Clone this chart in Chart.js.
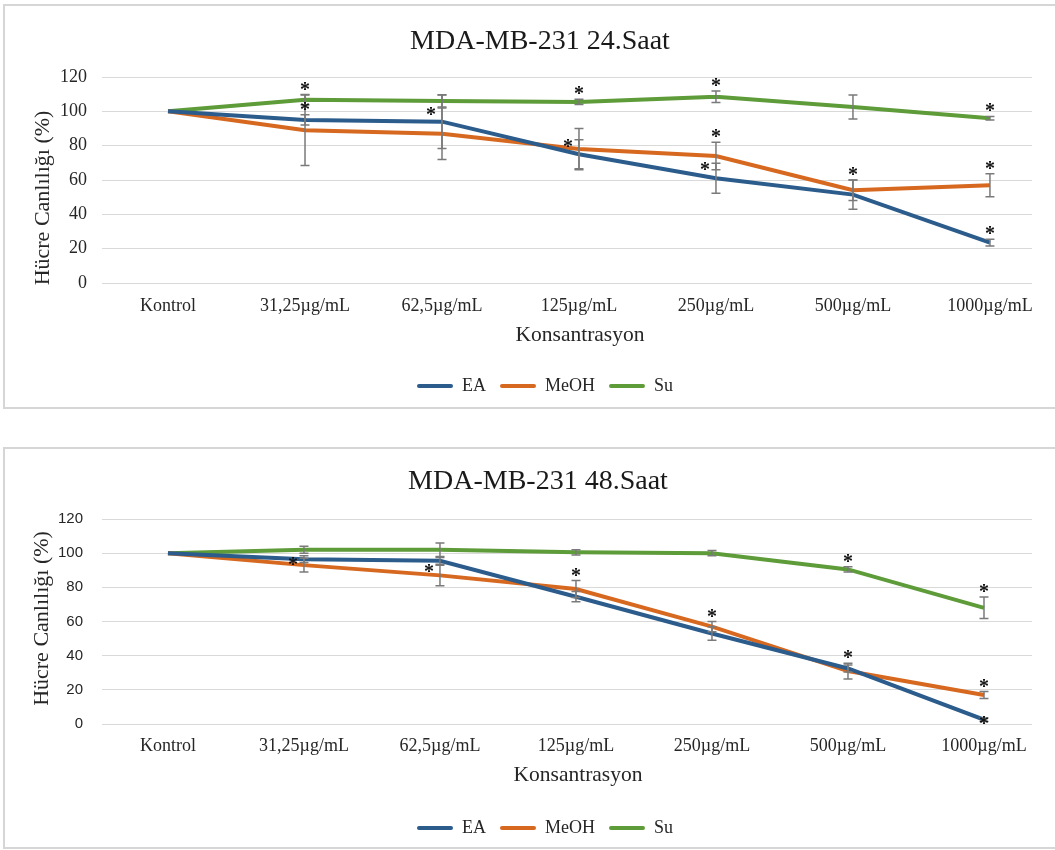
<!DOCTYPE html>
<html>
<head>
<meta charset="utf-8">
<script src="https://cdn.jsdelivr.net/npm/chart.js@4/dist/chart.umd.min.js"></script>
<style>
  html, body { margin: 0; padding: 0; background: #fff; width: 1055px; height: 850px; overflow: hidden; }
  .frame { position: absolute; border: 2px solid #d6d6d6; box-sizing: border-box; }
  #f1 { left: 3px; top: 4px; width: 1060px; height: 405px; }
  #f2 { left: 3px; top: 447px; width: 1060px; height: 402px; }
  canvas { position: absolute; left: 0; }
  #c1 { top: 0; }
  #c2 { top: 440px; }
</style>
</head>
<body>
<div class="frame" id="f1"></div>
<div class="frame" id="f2"></div>
<canvas id="c1" width="1055" height="405"></canvas>
<canvas id="c2" width="1055" height="407"></canvas>
<script>
// Concentrations on the x axis and the viability ticks on the y axis
const categories = ['Kontrol', '31,25µg/mL', '62,5µg/mL', '125µg/mL', '250µg/mL', '500µg/mL', '1000µg/mL'];
const yTicks = [0, 20, 40, 60, 80, 100, 120];

// 24 h viability (%), standard deviations and significance marks
// sig: 'T' = star above the error bar, 'L' = star to the left, 'C' = star on the point
const ea24 = [100, 95, 94, 75, 61, 51.5, 23.5];
const ea24Sd = [0, 3, 15.7, 8.5, 8.7, 8.5, 2];
const ea24Sig = [0, 'T', 0, 'L', 'L', 0, 'T'];
const meoh24 = [100, 89, 87, 78, 74, 54, 57];
const meoh24Sd = [0, 20.5, 15, 12, 8, 6, 6.7];
const meoh24Sig = [0, 0, 'L', 0, 'T', 'T', 'T'];
const su24 = [100, 106.8, 106, 105.5, 108.5, 102.5, 96];
const su24Sd = [0, 3, 3.5, 1.5, 3.3, 7, 1];
const su24Sig = [0, 'T', 0, 'T', 'T', 0, 'T'];

// 48 h viability (%), standard deviations and significance marks
const ea48 = [100, 96.5, 95.5, 74.5, 53, 32.5, 2.5];
const ea48Sd = [0, 2, 2, 3, 4, 2, 1];
const ea48Sig = [0, 0, 0, 0, 0, 0, 'C'];
const meoh48 = [100, 93, 87, 79, 57, 31, 17];
const meoh48Sd = [0, 4, 6, 5, 3, 4.6, 2];
const meoh48Sig = [0, 'L', 'L', 'T', 'T', 'T', 'T'];
const su48 = [100, 102, 102, 100.5, 100, 90.5, 68];
const su48Sd = [0, 2, 4, 1.5, 1.5, 1.5, 6.3];
const su48Sig = [0, 0, 0, 0, 0, 'T', 'T'];

const SERIF = '"Liberation Serif", "Times New Roman", serif';
const SANS = '"Liberation Sans", Arial, sans-serif';
const COLORS = { EA: '#2b5c8c', MeOH: '#d6681f', Su: '#5e9b39' };
const TEXT = '#262626';

// Error bars with caps and significance asterisks, drawn on top of the lines
const errorMarks = {
  id: 'errorMarks',
  afterDatasetsDraw(chart) {
    const { ctx, scales: { x, y } } = chart;
    ctx.save();
    ctx.strokeStyle = '#7a7a7a';
    ctx.lineWidth = 1.5;
    chart.data.datasets.forEach(ds => {
      ds.data.forEach((pt, i) => {
        const e = ds.sd[i];
        if (!e) return;
        const px = x.getPixelForValue(pt.x);
        const top = y.getPixelForValue(pt.y + e);
        const bot = y.getPixelForValue(pt.y - e);
        ctx.beginPath();
        ctx.moveTo(px, top); ctx.lineTo(px, bot);
        ctx.moveTo(px - 4.5, top); ctx.lineTo(px + 4.5, top);
        ctx.moveTo(px - 4.5, bot); ctx.lineTo(px + 4.5, bot);
        ctx.stroke();
      });
    });
    ctx.fillStyle = '#111';
    ctx.font = 'bold 20px ' + SERIF;
    ctx.textAlign = 'center';
    ctx.textBaseline = 'alphabetic';
    chart.data.datasets.forEach(ds => {
      ds.data.forEach((pt, i) => {
        const mark = ds.sig[i];
        if (!mark) return;
        const px = x.getPixelForValue(pt.x);
        const topV = pt.y + (ds.sd[i] || 0);
        let cx = px, cy;
        if (mark === 'T') { cy = y.getPixelForValue(topV) - 9; }
        else if (mark === 'L') { cx = px - 11; cy = y.getPixelForValue(topV) + 3; }
        else { cy = y.getPixelForValue(pt.y); }
        ctx.fillText('*', cx, cy + 10);
      });
    });
    ctx.restore();
  }
};

// Nudges the title, legend and axis titles after the layout is computed
const placeShift = {
  id: 'placeShift',
  afterLayout(chart, args, o) {
    const mv = (box, dx, dy) => {
      if (!box) return;
      box.left += dx || 0; box.right += dx || 0;
      box.top += dy || 0; box.bottom += dy || 0;
    };
    mv(chart.titleBlock, o.titleDx, 0);
    mv(chart.legend, o.legendDx, 0);
    mv(chart.scales.x, o.xTitleDx, 0);
    mv(chart.scales.y, 0, o.yTitleDy);
  }
};

function makeSeries(name, values, sd, sig) {
  return {
    label: name,
    data: categories.map((c, i) => ({ x: i, y: values[i] })),
    sd: sd,
    sig: sig,
    borderColor: COLORS[name],
    backgroundColor: COLORS[name],
    borderWidth: 4,
    pointRadius: 0,
    pointHoverRadius: 0,
    tension: 0,
    fill: false
  };
}

function buildChart(id, cfg) {
  return new Chart(document.getElementById(id), {
    type: 'line',
    data: { datasets: cfg.datasets },
    options: {
      responsive: false,
      animation: false,
      events: [],
      layout: { padding: { left: 0, right: 23, top: 0, bottom: 0 } },
      scales: {
        x: {
          type: 'linear',
          min: cfg.xMin,
          max: cfg.xMax,
          grid: { display: false },
          border: { display: false },
          afterBuildTicks: s => { s.ticks = categories.map((c, i) => ({ value: i })); },
          afterFit: s => { s.height = cfg.xAxisHeight; },
          ticks: {
            padding: cfg.xTickPad,
            color: TEXT,
            maxRotation: 0,
            autoSkip: false,
            font: { family: SERIF, size: 18 },
            callback: v => categories[v]
          },
          title: {
            display: true,
            text: 'Konsantrasyon',
            color: TEXT,
            font: { family: SERIF, size: 21.5 },
            padding: { top: 0, bottom: cfg.xTitlePad }
          }
        },
        y: {
          min: 0,
          max: 120,
          afterBuildTicks: s => { s.ticks = yTicks.map(v => ({ value: v })); },
          afterFit: s => { s.width = 102; },
          grid: { color: '#d9d9d9', lineWidth: 1, drawTicks: false },
          border: { display: false },
          ticks: { padding: cfg.yTickPad, color: TEXT, font: cfg.yTickFont },
          title: {
            display: true,
            text: 'Hücre Canlılığı (%)',
            color: TEXT,
            font: { family: SERIF, size: 22 },
            padding: { top: cfg.yTitlePad, bottom: 0 }
          }
        }
      },
      plugins: {
        title: {
          display: true,
          text: cfg.title,
          color: '#1a1a1a',
          font: { family: SERIF, size: 28, weight: 'normal' },
          padding: { top: 25.2, bottom: cfg.titlePadBottom }
        },
        legend: {
          position: 'bottom',
          maxHeight: 42,
          labels: {
            boxWidth: 36,
            boxHeight: 4,
            padding: 14,
            color: TEXT,
            font: { family: SERIF, size: 18 },
            useBorderRadius: true,
            borderRadius: 2,
            generateLabels: chart => Chart.defaults.plugins.legend.labels.generateLabels(chart)
              .map(item => Object.assign(item, { lineWidth: 0 }))
          }
        },
        tooltip: { enabled: false },
        placeShift: cfg.shift
      }
    },
    plugins: [errorMarks, placeShift]
  });
}

buildChart('c1', {
  title: 'MDA-MB-231 24.Saat',
  datasets: [
    makeSeries('EA', ea24, ea24Sd, ea24Sig),
    makeSeries('MeOH', meoh24, meoh24Sd, meoh24Sig),
    makeSeries('Su', su24, su24Sd, su24Sig)
  ],
  xMin: -0.482, xMax: 6.307,
  xAxisHeight: 80, xTickPad: 4.5, xTitlePad: 15.1,
  titlePadBottom: 18.2,
  yTickPad: 15, yTitlePad: 29.8,
  yTickFont: { family: SERIF, size: 18 },
  shift: { titleDx: 24, legendDx: 29, xTitleDx: 13, yTitleDy: 18 }
});

buildChart('c2', {
  title: 'MDA-MB-231 48.Saat',
  datasets: [
    makeSeries('EA', ea48, ea48Sd, ea48Sig),
    makeSeries('MeOH', meoh48, meoh48Sd, meoh48Sig),
    makeSeries('Su', su48, su48Sd, su48Sig)
  ],
  xMin: -0.485, xMax: 6.353,
  xAxisHeight: 81, xTickPad: 3.5, xTitlePad: 17.1,
  titlePadBottom: 20.2,
  yTickPad: 19, yTitlePad: 28.8,
  yTickFont: { family: SANS, size: 15 },
  shift: { titleDx: 22, legendDx: 29, xTitleDx: 11, yTitleDy: -3 }
});
</script>
</body>
</html>
